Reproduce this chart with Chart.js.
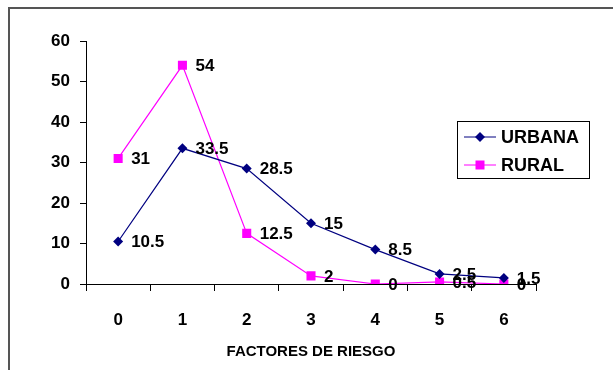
<!DOCTYPE html>
<html>
<head>
<meta charset="utf-8">
<script src="https://cdn.jsdelivr.net/npm/chart.js@4"></script>
<style>
  body { margin: 0; background: #fff; width: 613px; height: 370px; overflow: hidden; position: relative; }
  #frame { position: absolute; left: 8px; top: 7px; width: 700px; height: 500px; border: 2px solid #555; }
  #caption { position: absolute; left: 22px; top: -19px; font: 17px "Liberation Serif", "Times New Roman", serif; white-space: nowrap; color: #000; }
  canvas { position: absolute; left: 0; top: 0; }
</style>
</head>
<body>
<div id="caption">Mujeres por zona urbana y rural según factores de riesgo</div>
<div id="frame"></div>
<canvas id="myChart" width="613" height="370"></canvas>
<script>
// data
const categories = ["0", "1", "2", "3", "4", "5", "6"];
const urbana = [10.5, 33.5, 28.5, 15, 8.5, 2.5, 1.5];
const rural = [31, 54, 12.5, 2, 0, 0.5, 0];
const seriesNames = ["URBANA", "RURAL"];
const xTitle = "FACTORES DE RIESGO";

const FONT = '"Liberation Sans", Arial, sans-serif';

// value labels to the right of each point
const pointLabels = {
  id: "pointLabels",
  afterDatasetsDraw(chart) {
    const ctx = chart.ctx;
    ctx.save();
    ctx.font = "bold 17px " + FONT;
    ctx.fillStyle = "#000";
    ctx.textAlign = "left";
    ctx.textBaseline = "middle";
    chart.data.datasets.forEach((ds, i) => {
      chart.getDatasetMeta(i).data.forEach((pt, j) => {
        ctx.fillText(String(ds.data[j]), pt.x + 13, pt.y + 1);
      });
    });
    ctx.restore();
  },
};

// boxed legend like the original
const boxLegend = {
  id: "boxLegend",
  afterDraw(chart) {
    const ctx = chart.ctx;
    const x = 457.5, y = 121.5, w = 132, h = 57;
    ctx.save();
    ctx.strokeStyle = "#000";
    ctx.lineWidth = 1;
    ctx.strokeRect(x, y, w, h);
    ctx.font = "bold 18px " + FONT;
    ctx.textBaseline = "middle";
    ctx.fillStyle = "#000";
    chart.data.datasets.forEach((ds, i) => {
      const cy = 137 + i * 28;
      ctx.strokeStyle = ds.borderColor;
      ctx.beginPath();
      ctx.moveTo(464, cy);
      ctx.lineTo(496, cy);
      ctx.stroke();
      ctx.fillStyle = ds.borderColor;
      if (ds.pointStyle === "rectRot") {
        ctx.beginPath();
        ctx.moveTo(480, cy - 5);
        ctx.lineTo(485, cy);
        ctx.lineTo(480, cy + 5);
        ctx.lineTo(475, cy);
        ctx.closePath();
        ctx.fill();
      } else {
        ctx.fillRect(475.5, cy - 4.5, 9, 9);
      }
      ctx.fillStyle = "#000";
      ctx.fillText(ds.label, 501, cy + 1);
    });
    ctx.restore();
  },
};

const ctx = document.getElementById("myChart").getContext("2d");
new Chart(ctx, {
  type: "line",
  data: {
    labels: categories,
    datasets: [
      {
        label: seriesNames[0],
        data: urbana,
        borderColor: "#000080",
        backgroundColor: "#000080",
        borderWidth: 1.2,
        pointStyle: "rectRot",
        pointRadius: 5,
        pointBorderWidth: 0,
        tension: 0,
      },
      {
        label: seriesNames[1],
        data: rural,
        borderColor: "#ff00ff",
        backgroundColor: "#ff00ff",
        borderWidth: 1.2,
        pointStyle: "rect",
        pointRadius: 6.4,
        pointBorderWidth: 0,
        tension: 0,
      },
    ],
  },
  options: {
    responsive: false,
    animation: false,
    layout: { padding: { top: 41, right: 77, bottom: 0, left: 0 } },
    plugins: {
      legend: { display: false },
      tooltip: { enabled: false },
    },
    scales: {
      x: {
        offset: true,
        grid: {
          offset: true,
          drawOnChartArea: false,
          drawTicks: true,
          tickLength: 7,
          color: "#000",
        },
        border: { color: "#000", width: 1 },
        ticks: {
          color: "#000",
          padding: 19,
          maxRotation: 0,
          font: { family: FONT, size: 17, weight: "bold" },
        },
        title: {
          display: true,
          text: xTitle,
          color: "#000",
          font: { family: FONT, size: 15, weight: "bold" },
          padding: { top: 0, bottom: 9 },
        },
        afterFit(scale) {
          scale.height = 86;
        },
      },
      y: {
        min: 0,
        max: 60,
        grid: {
          drawOnChartArea: false,
          drawTicks: true,
          tickLength: 6,
          color: "#000",
        },
        border: { color: "#000", width: 1 },
        ticks: {
          stepSize: 10,
          color: "#000",
          padding: 10,
          font: { family: FONT, size: 17, weight: "bold" },
        },
        afterFit(scale) {
          scale.width = 86;
        },
      },
    },
  },
  plugins: [pointLabels, boxLegend],
});
</script>
</body>
</html>
